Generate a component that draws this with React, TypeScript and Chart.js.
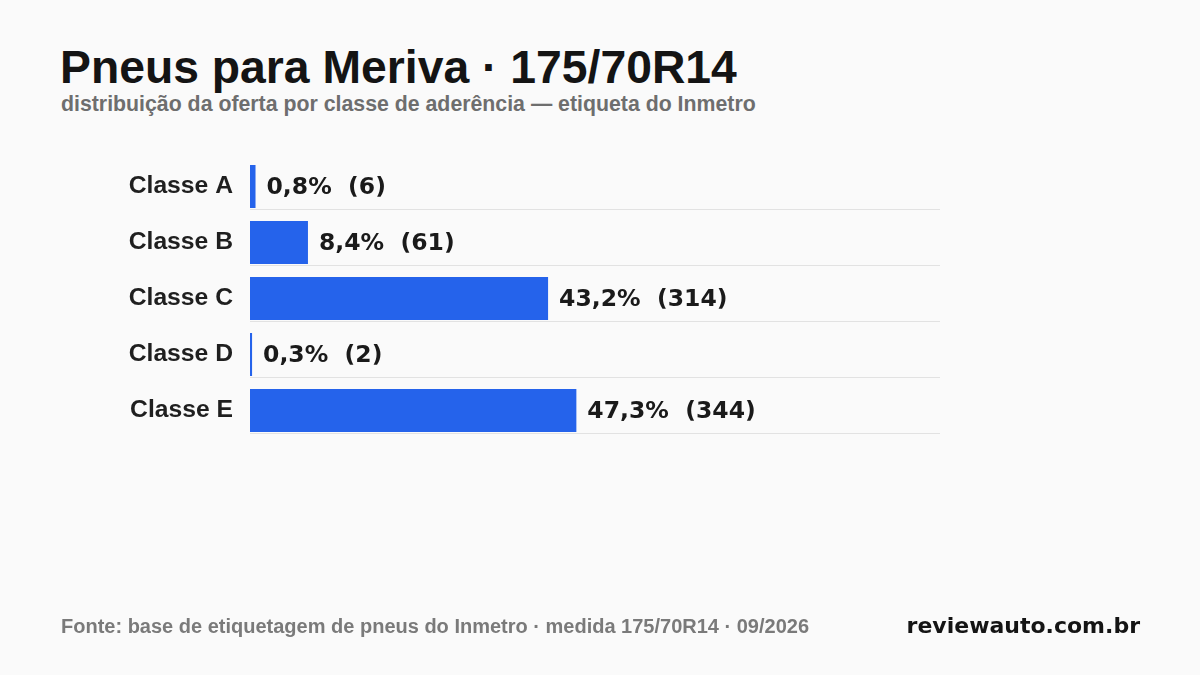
import { useEffect, useRef } from "react";
import { Chart, registerables } from "chart.js";
Chart.register(...registerables);

const classes = ["Classe A", "Classe B", "Classe C", "Classe D", "Classe E"];
const shares = [0.8, 8.4, 43.2, 0.3, 47.3];
const counts = [6, 61, 314, 2, 344];
const axisMax = 100;

const fmtShare = (v: number) => v.toFixed(1).replace(".", ",") + "%";

// thin separator under each bar
const rowLines = {
  id: "rowLines",
  beforeDatasetsDraw(chart: any) {
    const { ctx, chartArea } = chart;
    const meta = chart.getDatasetMeta(0);
    ctx.save();
    ctx.strokeStyle = "#e2e2e2";
    ctx.lineWidth = 1;
    meta.data.forEach((bar: any) => {
      const { y, height } = bar.getProps(["y", "height"], true);
      const ly = Math.round(y + height / 2) + 1.5;
      ctx.beginPath();
      ctx.moveTo(chartArea.left, ly);
      ctx.lineTo(chartArea.right, ly);
      ctx.stroke();
    });
    ctx.restore();
  },
};

const valueLabels = {
  id: "valueLabels",
  afterDatasetsDraw(chart: any) {
    const { ctx } = chart;
    const meta = chart.getDatasetMeta(0);
    ctx.save();
    ctx.font = "bold 23.5px 'DejaVu Sans'";
    ctx.fillStyle = "#1a1a1a";
    ctx.textBaseline = "middle";
    ctx.textAlign = "left";
    meta.data.forEach((bar: any, i: number) => {
      const { x, y } = bar.getProps(["x", "y"], true);
      ctx.fillText(`${fmtShare(shares[i])}  (${counts[i]})`, x + 11, y + 1);
    });
    ctx.restore();
  },
};

const App = () => {
  const chartRef = useRef<HTMLCanvasElement | null>(null);

  useEffect(() => {
    if (!chartRef.current) return;
    const ctx = chartRef.current.getContext("2d");
    if (!ctx) return;
    const chart = new Chart(ctx, {
      type: "bar",
      data: {
        labels: classes,
        datasets: [
          {
            data: shares,
            backgroundColor: "#2563eb",
            borderWidth: 0,
            barPercentage: 0.77,
            categoryPercentage: 1,
          },
        ],
      },
      options: {
        indexAxis: "y",
        animation: false,
        responsive: true,
        maintainAspectRatio: false,
        layout: { padding: { top: 158.5, bottom: 236.5, left: 0, right: 260 } },
        plugins: {
          legend: { display: false },
          tooltip: { enabled: false },
        },
        scales: {
          x: {
            display: false,
            min: 0,
            max: axisMax,
          },
          y: {
            afterFit: (scale: any) => {
              scale.width = 250;
            },
            grid: { display: false, drawTicks: false },
            border: { display: false },
            ticks: {
              padding: 17,
              color: "#1f1f1f",
              font: { family: "'Liberation Sans', Arial, sans-serif", size: 24.7, weight: "bold" },
            },
          },
        },
      },
      plugins: [rowLines, valueLabels],
    });
    return () => chart.destroy();
  }, []);

  return (
    <div
      style={{
        position: "fixed",
        left: 0,
        top: 0,
        width: 1200,
        height: 675,
        background: "#fafafa",
        fontFamily: "'Liberation Sans', Arial, sans-serif",
        overflow: "hidden",
      }}
    >
      <div
        style={{
          position: "absolute",
          left: 60,
          top: 41,
          fontSize: 46.3,
          fontWeight: 700,
          color: "#141414",
          lineHeight: "52px",
          whiteSpace: "nowrap",
        }}
      >
        Pneus para Meriva · 175/70R14
      </div>
      <div
        style={{
          position: "absolute",
          left: 61,
          top: 92,
          fontSize: 21.3,
          fontWeight: 700,
          color: "#6e6e6e",
          lineHeight: "24px",
          whiteSpace: "nowrap",
        }}
      >
        distribuição da oferta por classe de aderência — etiqueta do Inmetro
      </div>
      <div style={{ position: "absolute", left: 0, top: 0, width: 1200, height: 675 }}>
        <canvas ref={chartRef}></canvas>
      </div>
      <div
        style={{
          position: "absolute",
          left: 61,
          top: 614,
          fontSize: 20,
          fontWeight: 700,
          color: "#7a7a7a",
          lineHeight: "24px",
          whiteSpace: "nowrap",
        }}
      >
        Fonte: base de etiquetagem de pneus do Inmetro · medida 175/70R14 · 09/2026
      </div>
      <div
        style={{
          position: "absolute",
          right: 60,
          top: 613,
          fontSize: 22,
          fontWeight: 700,
          fontFamily: "'DejaVu Sans', sans-serif",
          color: "#141414",
          lineHeight: "26px",
          whiteSpace: "nowrap",
        }}
      >
        reviewauto.com.br
      </div>
    </div>
  );
};

export default App;
